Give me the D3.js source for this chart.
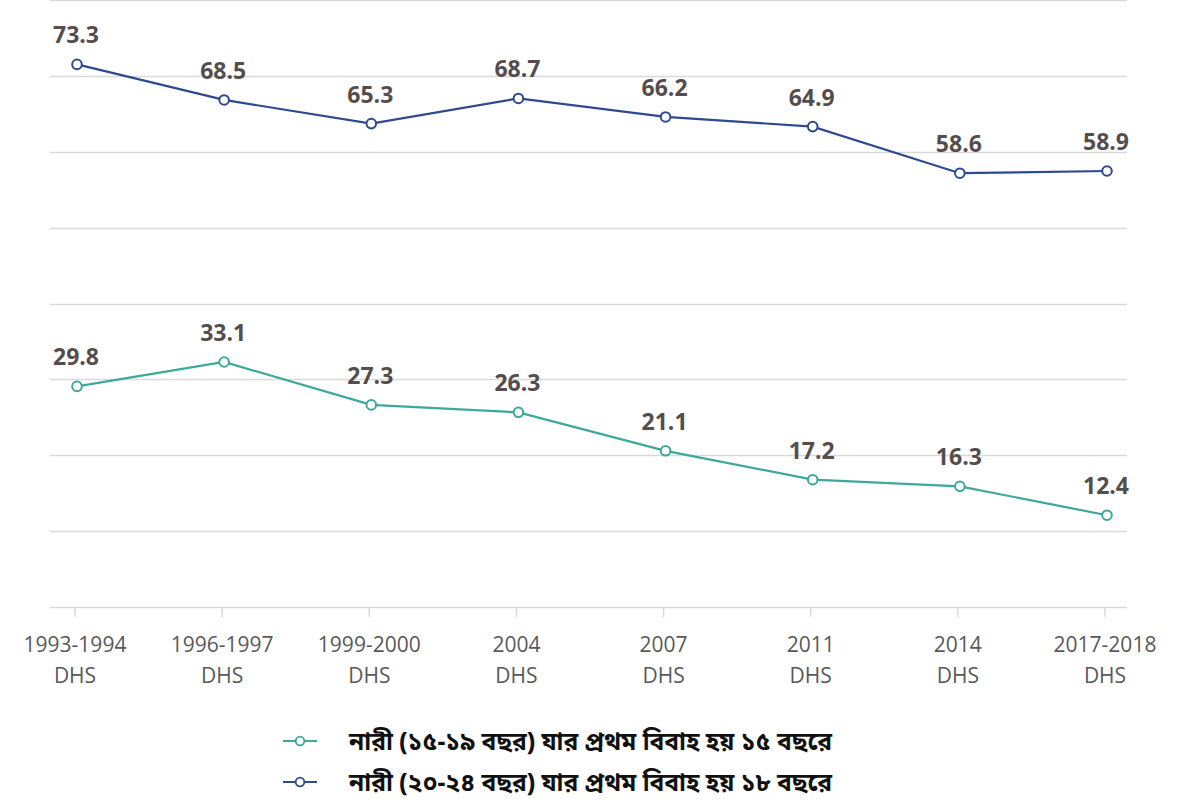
<!DOCTYPE html>
<html>
<head>
<meta charset="utf-8">
<script src="https://d3js.org/d3.v7.min.js"></script>
<style>
  body { margin: 0; background: #fff; }
  .tick-label { font-family: "Open Sans", sans-serif; font-size: 21px; fill: #595959; }
  .data-label { font-family: "Open Sans", sans-serif; font-size: 23px; font-weight: bold; fill: #544d4d; }
  .legend-label { font-family: "Noto Sans Bengali", "Noto Sans", sans-serif; font-size: 24.5px; font-weight: bold; fill: #111; }
</style>
</head>
<body>
<svg id="chart" width="1186" height="803"></svg>
<script>
// survey rounds, two rows per tick label
const surveys = ["1993-1994", "1996-1997", "1999-2000", "2004", "2007", "2011", "2014", "2017-2018"];
const surveySuffix = "DHS";

// women 20-24 married by 18
const marriedBy18 = [73.3, 68.5, 65.3, 68.7, 66.2, 64.9, 58.6, 58.9];
// women 15-19 married by 15
const marriedBy15 = [29.8, 33.1, 27.3, 26.3, 21.1, 17.2, 16.3, 12.4];

const legendNames = [
  "নারী (১৫-১৯ বছর) যার প্রথম বিবাহ হয় ১৫ বছরে",
  "নারী (২০-২৪ বছর) যার প্রথম বিবাহ হয় ১৮ বছরে"
];

const yMax = 82;
const gridCount = 8;

const svg = d3.select("#chart");
const plotLeft = 50, plotRight = 1127, plotTop = 0, plotBottom = 607;

const x = d3.scalePoint().domain(surveys).range([77, 1107]);
const y = d3.scaleLinear().domain([0, yMax]).range([plotBottom, plotTop]);

// gridlines
const gridVals = d3.range(0, gridCount + 1).map(i => i * yMax / gridCount);
svg.append("g").selectAll("line").data(gridVals).enter()
  .append("line")
  .attr("x1", plotLeft).attr("x2", plotRight)
  .attr("y1", d => Math.round(y(d)) + 0.5).attr("y2", d => Math.round(y(d)) + 0.5)
  .attr("stroke", "#d9d9d9").attr("stroke-width", 1.5);

// x axis ticks + two line labels
const xAxis = svg.append("g");
xAxis.selectAll("line").data(surveys).enter()
  .append("line")
  .attr("x1", d => x(d) - 2).attr("x2", d => x(d) - 2)
  .attr("y1", plotBottom).attr("y2", plotBottom + 10)
  .attr("stroke", "#d9d9d9").attr("stroke-width", 1.5);
xAxis.selectAll("text.top").data(surveys).enter()
  .append("text").attr("class", "tick-label top")
  .attr("x", d => x(d) - 2).attr("y", 652)
  .attr("text-anchor", "middle").text(d => d);
xAxis.selectAll("text.bot").data(surveys).enter()
  .append("text").attr("class", "tick-label bot")
  .attr("x", d => x(d) - 2).attr("y", 683)
  .attr("text-anchor", "middle").text(surveySuffix);

const series = [
  { name: legendNames[0], values: marriedBy15, color: "#3ca999" },
  { name: legendNames[1], values: marriedBy18, color: "#2e4a8e" }
];

const line = d3.line().x((d, i) => x(surveys[i])).y(d => y(d));

series.forEach(s => {
  const g = svg.append("g");
  g.append("path").datum(s.values)
    .attr("d", line).attr("fill", "none")
    .attr("stroke", s.color).attr("stroke-width", 2.2);
  g.selectAll("circle").data(s.values).enter()
    .append("circle")
    .attr("cx", (d, i) => x(surveys[i])).attr("cy", d => y(d))
    .attr("r", 4.8).attr("fill", "#fff")
    .attr("stroke", s.color).attr("stroke-width", 2);
  g.selectAll("text").data(s.values).enter()
    .append("text").attr("class", "data-label")
    .attr("x", (d, i) => x(surveys[i]) - 1).attr("y", d => y(d) - 21)
    .attr("text-anchor", "middle").text(d => d.toFixed(1));
});

// legend
const legend = svg.append("g");
series.forEach((s, i) => {
  const ly = 741 + i * 41;
  legend.append("line")
    .attr("x1", 283).attr("x2", 317).attr("y1", ly).attr("y2", ly)
    .attr("stroke", s.color).attr("stroke-width", 1.8);
  legend.append("circle")
    .attr("cx", 300).attr("cy", ly).attr("r", 4.3)
    .attr("fill", "#fff").attr("stroke", s.color).attr("stroke-width", 1.8);
  legend.append("text").attr("class", "legend-label")
    .attr("x", 349).attr("y", ly + 9).text(s.name);
});
</script>
</body>
</html>
